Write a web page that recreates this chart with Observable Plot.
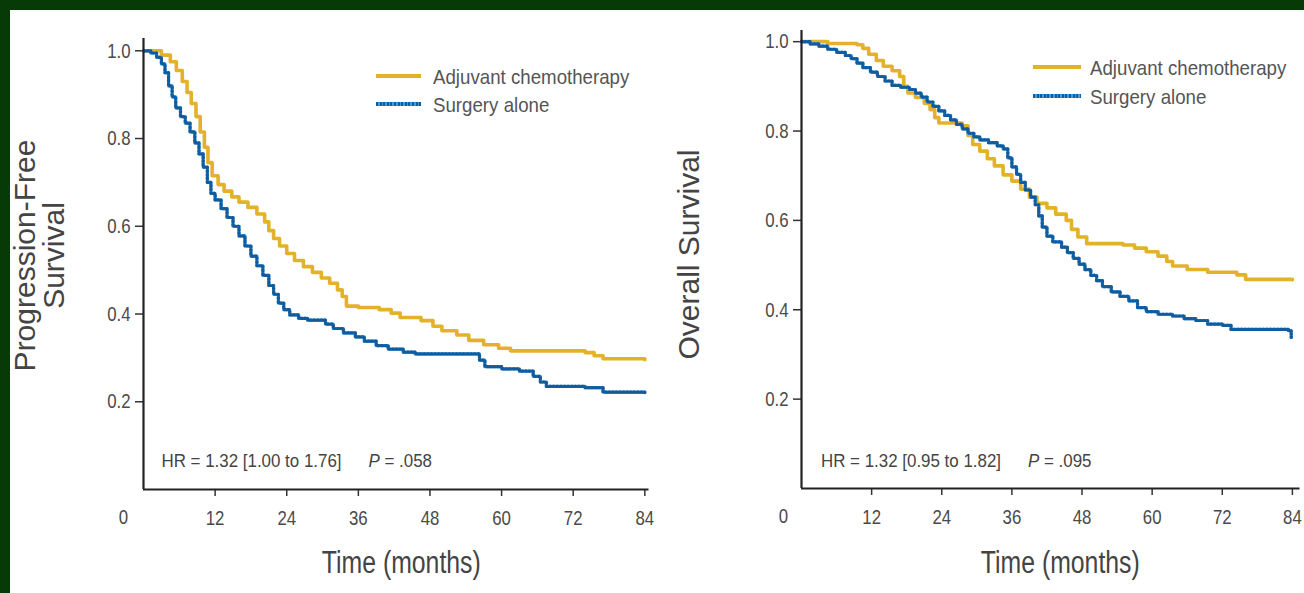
<!DOCTYPE html>
<html>
<head>
<meta charset="utf-8">
<script src="https://cdn.jsdelivr.net/npm/d3@7"></script>
<script src="https://cdn.jsdelivr.net/npm/@observablehq/plot@0.6"></script>
<style>
  html, body { margin: 0; padding: 0; }
  body { width: 1304px; height: 593px; background: #073a07; position: relative; overflow: hidden; }
  #sheet { position: absolute; left: 10px; top: 10px; right: 0; bottom: 0; background: #fff; }
  .panel { position: absolute; top: 10px; }
  .legend { position: absolute; font-family: "Liberation Sans", Arial, sans-serif; font-size: 21px; color: #555; line-height: 1; }
  .legend .row { display: flex; align-items: center; white-space: nowrap; }
  .legend .swatch { display: inline-block; height: 4px; flex: none; }
  .legend .name { display: inline-block; transform: scaleX(0.89); transform-origin: left center; }
</style>
</head>
<body>
<div id="sheet"></div>
<div id="pfs" class="panel" style="left:10px"></div>
<div id="os" class="panel" style="left:660px"></div>
<script>
// Groups and styling
const seriesNames = ["Adjuvant chemotherapy", "Surgery alone"];
const chemoColor = "#e4b12a";
const surgeryColor = "#3d9be0";
const surgeryCensor = "#125c9d";

// Axis ticks
const xTicks = [12, 24, 36, 48, 60, 72, 84];
const originTick = [0];
const yTicks = [0.2, 0.4, 0.6, 0.8, 1.0];

// Progression-free survival, adjuvant chemotherapy (step points: month, survival)
const pfsChemoMonths = [0, 3, 4.5, 5.5, 6.5, 7.3, 8, 8.8, 9.5, 10.2, 10.8, 11.5, 12.5, 13.5, 14.8, 16, 17.5, 19, 20.3, 21, 21.8, 22.8, 24, 25.3, 26.8, 28.3, 29.8, 31.2, 32.5, 33.3, 34, 36, 39.5, 41.5, 43, 46.5, 48.5, 50, 52.5, 54.5, 57, 59.5, 61.5, 74, 75.5, 77, 84];
const pfsChemoSurv = [1.0, 0.99, 0.975, 0.955, 0.93, 0.905, 0.88, 0.85, 0.815, 0.78, 0.745, 0.715, 0.695, 0.68, 0.667, 0.655, 0.643, 0.628, 0.61, 0.59, 0.572, 0.555, 0.538, 0.522, 0.508, 0.495, 0.482, 0.47, 0.455, 0.44, 0.418, 0.415, 0.41, 0.402, 0.392, 0.385, 0.372, 0.362, 0.352, 0.34, 0.33, 0.322, 0.316, 0.312, 0.305, 0.298, 0.296];

// Progression-free survival, surgery alone
const pfsSurgeryMonths = [0, 1.2, 2.2, 3, 3.6, 4.2, 4.8, 5.4, 6.2, 7, 7.8, 8.6, 9.3, 10, 10.7, 11.3, 12, 13, 14, 15, 16, 17, 18, 19, 20, 21, 21.8, 22.6, 23.5, 24.5, 26, 27.5, 30.5, 31.8, 33.5, 35.5, 37, 39, 41, 43.5, 45.5, 56.3, 57.2, 60, 63, 65.3, 66.5, 67.5, 74, 77, 84];
const pfsSurgerySurv = [1.0, 0.995, 0.985, 0.97, 0.95, 0.92, 0.895, 0.87, 0.85, 0.835, 0.815, 0.79, 0.765, 0.735, 0.7, 0.675, 0.66, 0.64, 0.62, 0.6, 0.578, 0.555, 0.532, 0.51, 0.488, 0.465, 0.445, 0.425, 0.41, 0.398, 0.39, 0.386, 0.377, 0.367, 0.357, 0.348, 0.338, 0.328, 0.32, 0.313, 0.309, 0.295, 0.28, 0.275, 0.27, 0.258, 0.245, 0.235, 0.232, 0.222, 0.221];

// Overall survival, adjuvant chemotherapy
const osChemoMonths = [0, 4.5, 9.5, 10.5, 11.5, 12.8, 14, 15.5, 16.8, 17.5, 18.2, 19.5, 21, 22, 22.8, 23.5, 27.5, 28.5, 29.3, 30.5, 31.8, 33, 34.5, 36, 37.5, 39, 40.3, 42, 43.5, 45.3, 46.2, 47.3, 48.8, 55, 57, 59, 61, 62.5, 63.5, 66, 69.5, 74.5, 76, 84];
const osChemoSurv = [1.0, 0.996, 0.993, 0.985, 0.972, 0.958, 0.945, 0.935, 0.922, 0.9, 0.885, 0.875, 0.862, 0.848, 0.83, 0.818, 0.812, 0.79, 0.77, 0.755, 0.738, 0.722, 0.702, 0.688, 0.67, 0.652, 0.638, 0.628, 0.614, 0.6, 0.58, 0.563, 0.548, 0.545, 0.538, 0.53, 0.52, 0.508, 0.498, 0.49, 0.484, 0.478, 0.468, 0.467];

// Overall survival, surgery alone
const osSurgeryMonths = [0, 1.5, 3, 4.5, 6, 7.5, 8.5, 9.5, 10.5, 11.8, 13, 14.3, 15.5, 17, 18.5, 19.5, 20.5, 21.5, 22.5, 23.5, 24.5, 25.5, 26.5, 27.5, 28.5, 29.5, 30.5, 32, 33.5, 34.5, 35.3, 36, 36.8, 37.5, 38.3, 39.2, 40, 40.6, 41.2, 42, 43, 44.5, 45.5, 46.5, 47.5, 48.5, 49.5, 50.5, 51.5, 53, 54.5, 56, 57.5, 59, 61, 63.5, 65.5, 67.5, 69.5, 72, 73.5, 83.3, 83.8];
const osSurgerySurv = [1.0, 0.995, 0.99, 0.983, 0.976, 0.969, 0.962, 0.952, 0.942, 0.932, 0.922, 0.912, 0.902, 0.898, 0.893, 0.885, 0.876, 0.865, 0.855, 0.845, 0.835, 0.825, 0.815, 0.805, 0.795, 0.787, 0.78, 0.774, 0.767, 0.76, 0.74, 0.72, 0.703, 0.685, 0.668, 0.652, 0.635, 0.61, 0.585, 0.565, 0.552, 0.54, 0.528, 0.515, 0.502, 0.49, 0.477, 0.465, 0.452, 0.44, 0.43, 0.42, 0.405, 0.396, 0.39, 0.386, 0.38, 0.376, 0.368, 0.365, 0.356, 0.353, 0.338];

// Panel text
const pfsTitle = "Progression-Free\nSurvival";
const osTitle = "Overall Survival";
const xTitle = "Time (months)";
const pfsStats = "HR = 1.32 [1.00 to 1.76] P = .058";
const osStats = "HR = 1.32 [0.95 to 1.82] P = .095";

const sans = '"Liberation Sans", Arial, sans-serif';

function rows(months, surv) {
  return months.map((t, i) => ({t, s: surv[i]}));
}

// Condense a text or tspan element horizontally (narrow typeface look)
function condense(node, factor) {
  const len = node.getComputedTextLength();
  if (len > 0) {
    node.setAttribute("textLength", (len * factor).toFixed(2));
    node.setAttribute("lengthAdjust", "spacingAndGlyphs");
  }
}

// Text elements of the plot whose content satisfies a test
function textsWhere(svg, test) {
  return svg.selectAll("text").filter(function () { return test(this.textContent); }).nodes();
}

function survivalPanel(cfg) {
  const chemo = rows(cfg.chemoMonths, cfg.chemoSurv);
  const surgery = rows(cfg.surgeryMonths, cfg.surgerySurv);
  const plot = Plot.plot({
    width: cfg.width,
    height: cfg.height,
    marginLeft: cfg.margin[3],
    marginRight: cfg.margin[1],
    marginTop: cfg.margin[0],
    marginBottom: cfg.margin[2],
    style: {fontFamily: sans, fontSize: "21px", color: "#4a4a4a", background: "transparent", overflow: "visible"},
    x: {domain: [0, cfg.xMax]},
    y: {domain: [0, cfg.yMax]},
    marks: [
      Plot.axisX(xTicks, {tickSize: 7, tickPadding: 14, fontSize: 21, label: null, stroke: "#333", strokeWidth: 1.5}),
      Plot.axisY(yTicks, {tickSize: 8, tickPadding: 5, fontSize: 21, label: null, tickFormat: d => d.toFixed(1), stroke: "#333", strokeWidth: 1.5}),
      Plot.text(originTick, {x: d => d, frameAnchor: "bottom", lineAnchor: "middle", dx: cfg.originDx, dy: 28, text: d => String(d), fontSize: 21, fill: "#4a4a4a"}),
      Plot.line(chemo, {x: "t", y: "s", curve: "step-after", stroke: chemoColor, strokeWidth: 3.6}),
      Plot.line(surgery, {x: "t", y: "s", curve: "step-after", stroke: surgeryColor, strokeWidth: 3.2}),
      Plot.line(surgery, {x: "t", y: "s", curve: "step-after", stroke: surgeryCensor, strokeWidth: 3.2, strokeDasharray: "1.3 2.3"}),
      Plot.ruleY([0], {stroke: "#222", strokeWidth: 2.2}),
      Plot.ruleX([0], {stroke: "#222", strokeWidth: 2.2}),
      Plot.text([cfg.stats], {frameAnchor: "bottom-left", textAnchor: "start", lineAnchor: "middle", dx: cfg.statsDx, dy: cfg.statsDy, fontSize: 19, fill: "#444"}),
      Plot.text([cfg.yTitle], {frameAnchor: "left", rotate: -90, textAnchor: "middle", lineAnchor: "middle", dx: cfg.yTitleDx, dy: cfg.yTitleDy, fontSize: 30, lineHeight: 0.95, fill: "#444"}),
      Plot.text([xTitle], {frameAnchor: "bottom", lineAnchor: "middle", dx: cfg.xTitleDx, dy: cfg.xTitleDy, fontSize: 31, fill: "#444"})
    ]
  });

  const svg = d3.select(plot);
  const statsNodes = textsWhere(svg, s => s === cfg.stats);

  // Italic P in the hazard-ratio line, set apart from the interval
  const statsParts = [];
  statsNodes.forEach(node => {
    const full = node.textContent;
    const cut = full.indexOf("P =");
    const head = full.slice(0, cut).trim();
    const tail = full.slice(cut + 1);
    const t = d3.select(node);
    t.text(null);
    statsParts.push(t.append("tspan").text(head).node());
    statsParts.push(t.append("tspan").attr("dx", 27).attr("font-style", "italic").text("P").node());
    statsParts.push(t.append("tspan").text(tail).node());
  });

  document.getElementById(cfg.id).appendChild(plot);

  // Narrow lettering for ticks, statistics and the time title
  const tickTexts = new Set([...xTicks, ...originTick].map(String).concat(yTicks.map(d => d.toFixed(1))));
  textsWhere(svg, s => tickTexts.has(s)).forEach(n => condense(n, 0.8));
  textsWhere(svg, s => s === xTitle).forEach(n => condense(n, 0.8));
  statsParts.forEach(n => condense(n, 0.89));

  // Line-swatch legend inside the plot area
  const lg = d3.select("body").append("div").attr("class", "legend")
    .style("left", cfg.legend.left + "px").style("top", cfg.legend.top + "px");
  const swatches = [
    {name: seriesNames[0], bg: chemoColor},
    {name: seriesNames[1], bg: `repeating-linear-gradient(90deg, ${surgeryCensor} 0 2px, ${surgeryColor} 2px 3.6px)`}
  ];
  swatches.forEach(s => {
    const row = lg.append("div").attr("class", "row").style("height", cfg.legend.row + "px");
    row.append("span").attr("class", "swatch")
      .style("width", cfg.legend.swatch + "px")
      .style("margin-right", cfg.legend.gap + "px")
      .style("background", s.bg);
    row.append("span").attr("class", "name").text(s.name);
  });
}

survivalPanel({
  id: "pfs", width: 650, height: 583, margin: [28, 11.5, 104, 133],
  xMax: 84.7, yMax: 1.028,
  chemoMonths: pfsChemoMonths, chemoSurv: pfsChemoSurv,
  surgeryMonths: pfsSurgeryMonths, surgerySurv: pfsSurgerySurv,
  yTitle: pfsTitle, yTitleDx: -103, yTitleDy: -8.5,
  stats: pfsStats, statsDx: 18, statsDy: -29,
  originDx: -20, xTitleDx: 5, xTitleDy: 74,
  legend: {left: 376, top: 62, row: 28, swatch: 45, gap: 12}
});

survivalPanel({
  id: "os", width: 644, height: 583, margin: [20, 4.5, 105, 141],
  xMax: 85.3, yMax: 1.025,
  chemoMonths: osChemoMonths, chemoSurv: osChemoSurv,
  surgeryMonths: osSurgeryMonths, surgerySurv: osSurgerySurv,
  yTitle: osTitle, yTitleDx: -112, yTitleDy: -5,
  stats: osStats, statsDx: 19.5, statsDy: -28,
  originDx: -18, xTitleDx: 9.5, xTitleDy: 75,
  legend: {left: 1033, top: 52.5, row: 29, swatch: 48, gap: 9}
});
</script>
</body>
</html>
